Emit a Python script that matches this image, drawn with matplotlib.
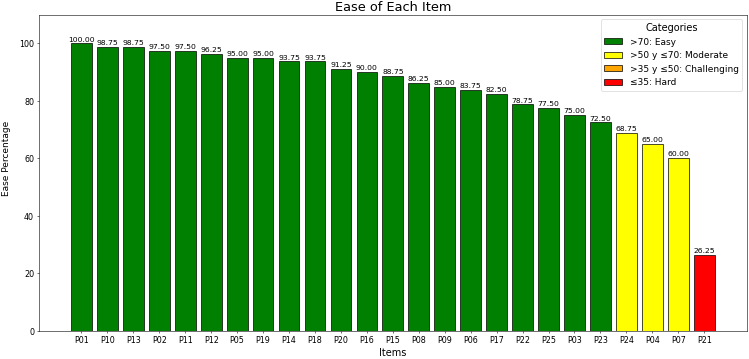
import matplotlib
matplotlib.use("Agg")
import matplotlib.pyplot as plt
from matplotlib.patches import Patch

items = ["P01", "P10", "P13", "P02", "P11", "P12", "P05", "P19", "P14", "P18",
         "P20", "P16", "P15", "P08", "P09", "P06", "P17", "P22", "P25", "P03",
         "P23", "P24", "P04", "P07", "P21"]
ease = [100.00, 98.75, 98.75, 97.50, 97.50, 96.25, 95.00, 95.00, 93.75, 93.75,
        91.25, 90.00, 88.75, 86.25, 85.00, 83.75, 82.50, 78.75, 77.50, 75.00,
        72.50, 68.75, 65.00, 60.00, 26.25]

cat_labels = [">70: Easy", ">50 y ≤70: Moderate", ">35 y ≤50: Challenging", "≤35: Hard"]
cat_colors = ["green", "yellow", "orange", "red"]


def color_for(v):
    if v > 70:
        return cat_colors[0]
    if v > 50:
        return cat_colors[1]
    if v > 35:
        return cat_colors[2]
    return cat_colors[3]


# drawn as a 15x7.2 inch figure, saved small (~50 dpi)
fig, ax = plt.subplots(figsize=(15, 7.2))
fig.subplots_adjust(left=0.052, right=0.997, top=0.9575, bottom=0.079)

x = range(len(items))
bars = ax.bar(x, ease, color=[color_for(v) for v in ease], edgecolor="black",
              width=0.8)
for b, v in zip(bars, ease):
    ax.text(b.get_x() + b.get_width() / 2, v + 0.5, f"{v:.2f}",
            ha="center", va="bottom", fontsize=11)

ax.set_xticks(list(x))
ax.set_xticklabels(items)
ax.tick_params(labelsize=11.5)
ax.set_ylim(0, 110)
ax.set_xlabel("Items", fontsize=14)
ax.set_ylabel("Ease Percentage", fontsize=13)
ax.yaxis.set_label_coords(-0.039, 0.546)
ax.set_title("Ease of Each Item", fontsize=18.5)

handles = [Patch(facecolor=c, edgecolor="black", label=l)
           for c, l in zip(cat_colors, cat_labels)]
ax.legend(handles=handles, title="Categories", loc="upper right",
          fontsize=13, title_fontsize=14)

fig.savefig("out.png", dpi=749 / 15)
